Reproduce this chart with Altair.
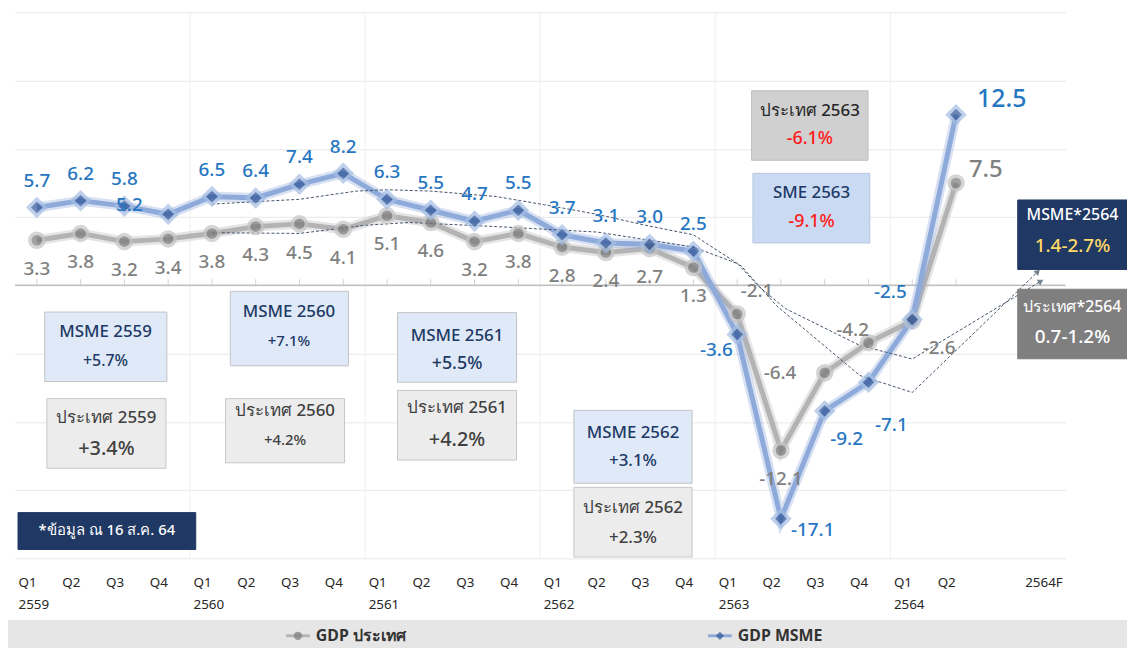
import json
import altair as alt
import pandas as pd

FONT = "Noto Sans"

# ---------------- data ----------------
quarter_names = ["Q1", "Q2", "Q3", "Q4"] * 5 + ["Q1", "Q2"]
year_names = ["2559", "2560", "2561", "2562", "2563", "2564"]
forecast_name = "2564F"

gdp_thai = [3.3, 3.8, 3.2, 3.4, 3.8, 4.3, 4.5, 4.1, 5.1, 4.6, 3.2, 3.8,
            2.8, 2.4, 2.7, 1.3, -2.1, -12.1, -6.4, -4.2, -2.6, 7.5]
gdp_msme = [5.7, 6.2, 5.8, 5.2, 6.5, 6.4, 7.4, 8.2, 6.3, 5.5, 4.7, 5.5,
            3.7, 3.1, 3.0, 2.5, -3.6, -17.1, -9.2, -7.1, -2.5, 12.5]

# dashed trend paths (x in quarter index units)
trend_msme_x = [4, 6, 7.3, 8, 9, 10.5, 11.6, 12.8, 13.9, 15, 16.1, 16.9, 18.8, 20, 22.87]
trend_msme_y = [5.95, 6.3, 6.9, 7.0, 6.9, 6.5, 5.9, 5.2, 4.4, 3.7, 1.4, -1.5, -6.6, -7.85, 1.0]
trend_gdp_x = [4, 6, 7.5, 8.5, 10.5, 12.8, 14, 15, 16, 16.5, 17.1, 18.8, 20, 22.94]
trend_gdp_y = [3.85, 3.8, 4.4, 4.6, 4.3, 3.9, 3.3, 2.8, 1.6, -0.1, -1.7, -4.4, -5.4, 0.3]

legend_names = ["GDP ประเทศ", "GDP MSME"]

# annotation boxes: extents in chart units, text lines, colours, font sizes
boxes = [
    dict(x0=0.18, x1=2.97, y0=-1.96, y1=-7.05, cx=1.57, t1="MSME 2559", t2="+5.7%", ty1=-3.4, ty2=-5.55,
         fill="#dfe9f7", stroke="#c4c4c4", c1="#203864", c2="#203864", s1=17, s2=16),
    dict(x0=0.23, x1=2.95, y0=-8.3, y1=-13.4, cx=1.59, t1="ประเทศ 2559", t2="+3.4%", ty1=-9.75, ty2=-12.0,
         fill="#ececec", stroke="#c8c8c8", c1="#404040", c2="#404040", s1=17, s2=20),
    dict(x0=4.42, x1=7.12, y0=-0.44, y1=-5.9, cx=5.76, t1="MSME 2560", t2="+7.1%", ty1=-1.96, ty2=-4.07,
         fill="#dfe9f7", stroke="#c4c4c4", c1="#203864", c2="#203864", s1=17, s2=15),
    dict(x0=4.31, x1=7.03, y0=-8.3, y1=-13.0, cx=5.67, t1="ประเทศ 2560", t2="+4.2%", ty1=-9.2, ty2=-11.35,
         fill="#ececec", stroke="#c8c8c8", c1="#404040", c2="#404040", s1=17, s2=15),
    dict(x0=8.24, x1=10.96, y0=-2.0, y1=-7.1, cx=9.6, t1="MSME 2561", t2="+5.5%", ty1=-3.7, ty2=-5.75,
         fill="#dfe9f7", stroke="#c4c4c4", c1="#203864", c2="#203864", s1=17, s2=18),
    dict(x0=8.24, x1=10.96, y0=-7.7, y1=-12.8, cx=9.6, t1="ประเทศ 2561", t2="+4.2%", ty1=-9.0, ty2=-11.3,
         fill="#ececec", stroke="#c8c8c8", c1="#404040", c2="#404040", s1=17, s2=20),
    dict(x0=12.27, x1=14.97, y0=-9.16, y1=-14.5, cx=13.62, t1="MSME 2562", t2="+3.1%", ty1=-10.8, ty2=-12.9,
         fill="#dfe9f7", stroke="#c4c4c4", c1="#203864", c2="#203864", s1=17, s2=17),
    dict(x0=12.27, x1=14.97, y0=-14.8, y1=-19.9, cx=13.62, t1="ประเทศ 2562", t2="+2.3%", ty1=-16.3, ty2=-18.5,
         fill="#ececec", stroke="#c8c8c8", c1="#404040", c2="#404040", s1=17, s2=17),
    dict(x0=16.33, x1=18.99, y0=14.25, y1=9.16, cx=17.66, t1="ประเทศ 2563", t2="-6.1%", ty1=12.8, ty2=10.7,
         fill="#d0d0d0", stroke="#bdbdbd", c1="#262626", c2="#ff1a1a", s1=17, s2=18),
    dict(x0=16.36, x1=19.03, y0=8.2, y1=3.1, cx=17.7, t1="SME 2563", t2="-9.1%", ty1=6.75, ty2=4.65,
         fill="#c9daf2", stroke="#b8c8e0", c1="#203864", c2="#ff1a1a", s1=17, s2=18),
    dict(x0=22.41, x1=24.91, y0=6.25, y1=1.16, cx=23.66, t1="MSME*2564", t2="1.4-2.7%", ty1=5.15, ty2=2.84,
         fill="#1f3864", stroke="#1f3864", c1="#ffffff", c2="#ffd966", s1=16, s2=19),
    dict(x0=22.41, x1=24.91, y0=-0.29, y1=-5.38, cx=23.66, t1="ประเทศ*2564", t2="0.7-1.2%", ty1=-1.6, ty2=-3.78,
         fill="#7f7f7f", stroke="#7f7f7f", c1="#ffffff", c2="#ffffff", s1=16, s2=19),
    dict(x0=-0.43, x1=3.63, y0=-16.65, y1=-19.35, cx=1.6, t1="*ข้อมูล ณ 16 ส.ค. 64", t2="", ty1=-17.96, ty2=-17.96,
         fill="#1f3864", stroke="#1f3864", c1="#ffffff", c2="#ffffff", s1=15, s2=15),
]

# ---------------- tables ----------------
n = len(gdp_thai)
df = pd.DataFrame({
    "idx": list(range(n)),
    "gdp": gdp_thai,
    "msme": gdp_msme,
})
df["gdp_lbl"] = df["gdp"].map(lambda v: f"{v:.1f}")
df["msme_lbl"] = df["msme"].map(lambda v: f"{v:.1f}")

trend_df = pd.concat([
    pd.DataFrame({"x": trend_msme_x, "y": trend_msme_y, "s": "msme", "i": range(len(trend_msme_x))}),
    pd.DataFrame({"x": trend_gdp_x, "y": trend_gdp_y, "s": "gdp", "i": range(len(trend_gdp_x))}),
])
box_df = pd.DataFrame(boxes)

# axis tick labels
tick_labels = []
for i, q in enumerate(quarter_names):
    if i % 4 == 0:
        tick_labels.append([q, year_names[i // 4]])
    else:
        tick_labels.append(q)
tick_labels.append("")
tick_labels.append(forecast_name)
label_expr = json.dumps(tick_labels, ensure_ascii=False) + "[datum.value]"

XDOM = [-0.5, 23.5]
YDOM = [-20, 20]

x_axis = alt.Axis(values=list(range(22)) + [23], labelExpr=label_expr, title=None, grid=False,
                  domain=False, ticks=False, labelAlign="left", labelOffset=-19, labelPadding=17,
                  labelFontSize=13.5, labelColor="#262626", labelFont=FONT, labelLineHeight=23,
                  labelOverlap=False, labelBound=False, labelFlush=False, labelBaseline="top")
y_axis = alt.Axis(values=list(range(-20, 21, 5)), labels=False, ticks=False, domain=False, title=None,
                  grid=True, gridColor="#e8e8e8", gridWidth=1)


def X(field):
    return alt.X(field, type="quantitative", scale=alt.Scale(domain=XDOM, nice=False, zero=False),
                 axis=x_axis)


def Y(field):
    return alt.Y(field, type="quantitative", scale=alt.Scale(domain=YDOM, nice=False, zero=False),
                 axis=y_axis)


base = alt.Chart(df)

vgrid = alt.Chart(pd.DataFrame({"g": [3.5, 7.5, 11.5, 15.5, 19.5]})).mark_rule(
    color="#efefef", strokeWidth=1).encode(x=X("g"))

zero_line = alt.Chart(pd.DataFrame({"z": [0]})).mark_rule(color="#bfbfbf", strokeWidth=1.5).encode(
    y=Y("z"))
zero_ticks = base.transform_calculate(zero="0").mark_tick(
    color="#bfbfbf", orient="vertical", size=6, yOffset=-3, thickness=1).encode(x=X("idx"), y=Y("zero"))

gdp_glow = base.mark_line(color="#b5b5b5", strokeWidth=10, opacity=0.35).encode(x=X("idx"), y=Y("gdp"))
gdp_line = base.mark_line(color="#b3b3b3", strokeWidth=5).encode(x=X("idx"), y=Y("gdp"))
msme_glow = base.mark_line(color="#8eaadb", strokeWidth=10, opacity=0.35).encode(x=X("idx"), y=Y("msme"))
msme_line = base.mark_line(color="#8eaadb", strokeWidth=5).encode(x=X("idx"), y=Y("msme"))

gdp_pts = base.mark_point(shape="circle", filled=True, size=200, color="#7a7a7a", stroke="#c4c4c4",
                          strokeWidth=3.5).encode(x=X("idx"), y=Y("gdp"))
msme_pts = base.mark_point(shape="diamond", filled=True, size=280, color="#2f5597", stroke="#a3bde3",
                           strokeWidth=3.5).encode(x=X("idx"), y=Y("msme"))

trend_lines = alt.Chart(trend_df).mark_line(color="#44546a", strokeWidth=1, strokeDash=[3, 2]).encode(
    x=X("x"), y=Y("y"), detail="s:N", order="i:Q")
trend_end = trend_df.sort_values("i").groupby("s").tail(1)
arrow_msme = alt.Chart(trend_end[trend_end.s == "msme"]).mark_point(
    shape="triangle-up", filled=True, size=45, color="#44546a", angle=45).encode(x=X("x"), y=Y("y"))
arrow_gdp = alt.Chart(trend_end[trend_end.s == "gdp"]).mark_point(
    shape="triangle-up", filled=True, size=45, color="#44546a", angle=59).encode(x=X("x"), y=Y("y"))

BLUE_TXT = "#2676c2"
GRAY_TXT = "#808080"


def labels(value_field, text_field, idxs, color, dx, dy, size=19, align="center"):
    return base.transform_filter(alt.FieldOneOfPredicate(field="idx", oneOf=idxs)).mark_text(
        color=color, fontSize=size, font=FONT, fontWeight=500, dx=dx, dy=dy, align=align,
        baseline="middle").encode(x=X("idx"), y=Y(value_field), text=alt.Text(text_field))


label_layers = [
    labels("msme", "msme_lbl", [0, 1, 2, 4, 5, 6, 7, 8, 9, 10, 11, 12, 13, 14, 15], BLUE_TXT, 0, -27),
    labels("gdp", "gdp_lbl", list(range(16)) + [17], GRAY_TXT, 0, 29),
]
msme_special = {3: (-39, -9, 19), 16: (-21, 16, 19), 17: (32, 11, 19), 18: (22, 28, 19),
                19: (23, 43, 19), 20: (-22, -28, 19), 21: (46, -16, 25)}
gdp_special = {16: (20, -23, 19), 18: (-45, 0, 19), 19: (-16, -13, 19), 20: (27, 27, 19),
               21: (30, -13, 24)}
for k, (dx, dy, s) in msme_special.items():
    label_layers.append(labels("msme", "msme_lbl", [k], BLUE_TXT, dx, dy, s))
for k, (dx, dy, s) in gdp_special.items():
    label_layers.append(labels("gdp", "gdp_lbl", [k], GRAY_TXT, dx, dy, s))

# boxes
bchart = alt.Chart(box_df)
box_shadow = bchart.mark_rect(color="#000000", opacity=0.18, xOffset=2, yOffset=2).encode(
    x=X("x0"), x2="x1", y=Y("y0"), y2="y1")
box_rect = bchart.mark_rect(strokeWidth=1).encode(
    x=X("x0"), x2="x1", y=Y("y0"), y2="y1",
    fill=alt.Fill("fill:N", scale=None), stroke=alt.Stroke("stroke:N", scale=None))
box_t1 = bchart.mark_text(font=FONT, fontWeight=500, baseline="middle").encode(
    x=X("cx"), y=Y("ty1"), text="t1:N", color=alt.Color("c1:N", scale=None),
    size=alt.Size("s1:Q", scale=None))
box_t2 = bchart.mark_text(font=FONT, fontWeight=500, baseline="middle").encode(
    x=X("cx"), y=Y("ty2"), text="t2:N", color=alt.Color("c2:N", scale=None),
    size=alt.Size("s2:Q", scale=None))

# legend band at the bottom
band = alt.Chart(pd.DataFrame({"a": [0]})).mark_rect(color="#e6e6e6").encode(
    x=alt.value(-7), x2=alt.value(1120), y=alt.value(612), y2=alt.value(643))
legend_layers = [band]
one = pd.DataFrame({"a": [0]})
for name, x0, lcol, pcol, shp in zip(legend_names, [273, 698], ["#b5b5b5", "#8eaadb"],
                                     ["#7a7a7a", "#2f5597"], ["circle", "diamond"]):
    legend_layers.append(alt.Chart(one).mark_rule(strokeWidth=3, color=lcol).encode(
        x=alt.value(x0), x2=alt.value(x0 + 24), y=alt.value(628)))
    legend_layers.append(alt.Chart(one).mark_point(filled=True, size=70, color=pcol, shape=shp).encode(
        x=alt.value(x0 + 12), y=alt.value(628)))
    legend_layers.append(alt.Chart(one).mark_text(
        align="left", baseline="middle", fontSize=16, fontWeight="bold", font=FONT,
        color="#333333", text=name).encode(x=alt.value(x0 + 30), y=alt.value(628)))

chart = alt.layer(
    vgrid, zero_line, zero_ticks,
    gdp_glow, gdp_line, msme_glow, msme_line, trend_lines, arrow_msme, arrow_gdp,
    gdp_pts, msme_pts,
    *label_layers,
    box_shadow, box_rect, box_t1, box_t2,
    *legend_layers,
).properties(
    width=1058, height=550,
    padding={"left": 7, "top": 2, "right": 62, "bottom": 88},
    autosize=alt.AutoSizeParams(type="none"),
    background="#ffffff",
).configure_view(stroke=None)

chart.save("out.html", embed_options={"renderer": "svg", "actions": False})
